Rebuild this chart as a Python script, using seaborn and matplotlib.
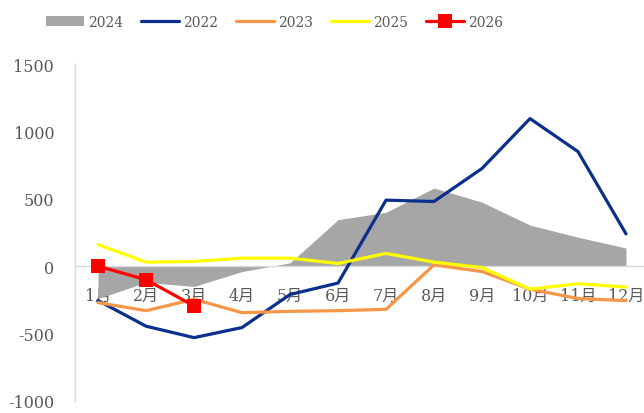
import matplotlib
matplotlib.use("Agg")
import matplotlib.pyplot as plt
import seaborn as sns
import pandas as pd
import numpy as np

months = ["1月", "2月", "3月", "4月", "5月", "6月", "7月", "8月", "9月", "10月", "11月", "12月"]
v2024 = [-240, -120, -150, -40, 25, 345, 400, 580, 475, 305, 215, 135]
v2022 = [-255, -445, -530, -455, -210, -125, 490, 480, 725, 1095, 850, 240]
v2023 = [-270, -330, -245, -345, -335, -330, -320, 10, -40, -170, -240, -255]
v2025 = [160, 30, 35, 60, 60, 20, 95, 30, -10, -170, -130, -155]
v2026 = [0, -100, -295]
yticks = [-1000, -500, 0, 500, 1000, 1500]

sns.set_theme(style="white")
plt.rcParams["font.family"] = ["DejaVu Serif", "Noto Sans CJK SC", "DejaVu Sans"]

fig = plt.figure(figsize=(6.44, 4.14), dpi=100)
ax = fig.add_axes([75 / 644, 12 / 414, 575 / 644, 337 / 414])

x = np.arange(len(months))
ax.fill_between(x, 0, v2024, color="#A6A6A6", linewidth=0, label="2024", zorder=1)

df = pd.DataFrame({"x": x, "2022": v2022, "2023": v2023, "2025": v2025})
sns.lineplot(data=df, x="x", y="2022", ax=ax, color="#0A2F8C", linewidth=2.3, label="2022", zorder=3)
sns.lineplot(data=df, x="x", y="2023", ax=ax, color="#F79646", linewidth=2.3, label="2023", zorder=3)
sns.lineplot(data=df, x="x", y="2025", ax=ax, color="#FFFF00", linewidth=2.3, label="2025", zorder=4)
df26 = pd.DataFrame({"x": x[:len(v2026)], "v": v2026})
sns.lineplot(data=df26, x="x", y="v", ax=ax, color="#FF0000", linewidth=2.3, marker="s",
             markersize=9.5, markeredgewidth=0, label="2026", zorder=5)

ax.set_xlim(-0.48, 11.5)
ax.set_ylim(-1000, 1500)
ax.set_yticks(yticks)
ax.set_yticklabels([str(t) for t in yticks])
ax.set_xticks(x)
ax.set_xticklabels(months)
ax.set_xlabel("")
ax.set_ylabel("")

for s in ["top", "right"]:
    ax.spines[s].set_visible(False)
ax.spines["left"].set_color("#D9D9D9")
ax.spines["left"].set_linewidth(1.0)
ax.spines["bottom"].set_position(("data", 0))
ax.spines["bottom"].set_color("#D9D9D9")
ax.spines["bottom"].set_linewidth(1.0)
ax.spines["bottom"].set_zorder(2)

ax.tick_params(axis="y", length=0, pad=15, labelsize=11.5, labelcolor="#595959")
ax.tick_params(axis="x", length=0, pad=15, labelsize=11.5, labelcolor="#595959")

handles, labels = ax.get_legend_handles_labels()
if ax.get_legend() is not None:
    ax.get_legend().remove()
order = ["2024", "2022", "2023", "2025", "2026"]
hmap = dict(zip(labels, handles))
fig.legend([hmap[k] for k in order], order, loc="center left", bbox_to_anchor=(46 / 644, 1 - 23 / 414),
           ncol=5, frameon=False, fontsize=10, handlelength=2.75, handletextpad=0.3,
           columnspacing=1.27, borderpad=0, borderaxespad=0, labelcolor="#595959")

fig.savefig("out.png", dpi=100)
